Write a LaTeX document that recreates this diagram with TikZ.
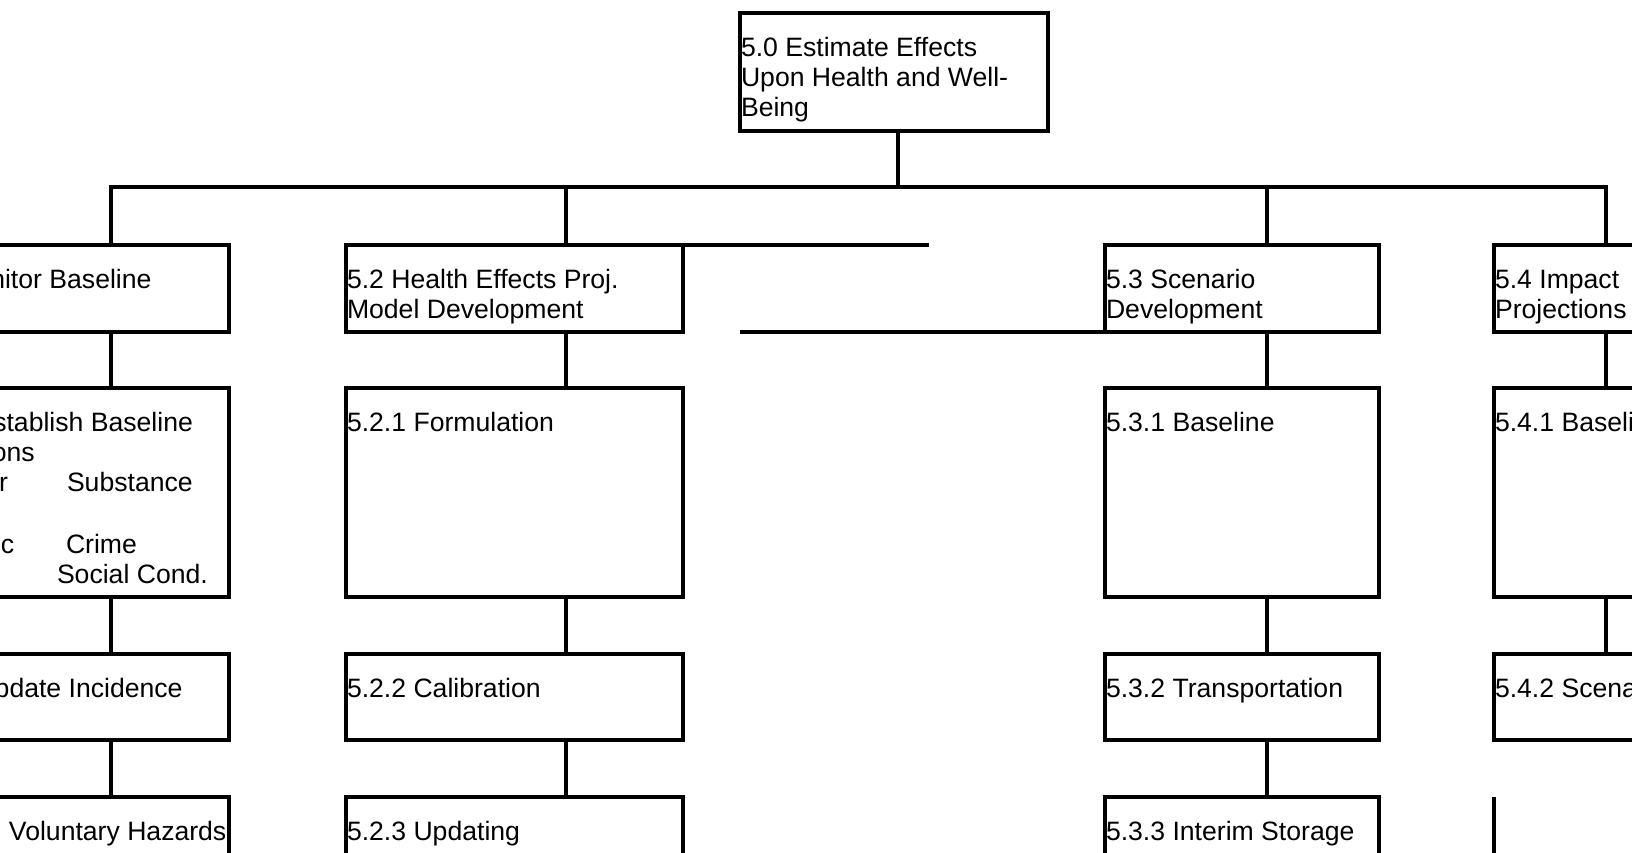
\documentclass[tikz,border=0pt]{standalone}
\usepackage{fontspec}
\setmainfont{Liberation Sans}
\usetikzlibrary{fit}
\tikzset{
  box/.style={draw, line width=1.6pt, inner sep=0pt, outer sep=0pt},
  conn/.style={line width=1.6pt},
  txt/.style={inner sep=0pt, outer sep=0pt, anchor=base west, font=\fontsize{13.3pt}{15pt}\selectfont}
}
\begin{document}
\begin{tikzpicture}[x=0.5pt,y=-0.5pt]
\useasboundingbox (0,0) rectangle (1632,852);
\clip (0,0) rectangle (1632,852);
\fill[white] (0,0) rectangle (1632,852);
% boxes
\node[box, fit={(740,13)(1048,131)}] (b50) {};
\node[box, fit={(-93,245)(229,332)}] (b51) {};
\node[box, fit={(-93,388)(229,597)}] (b511) {};
\node[box, fit={(-93,654)(229,740)}] (b512) {};
\node[box, fit={(-93,797)(229,900)}] (b513) {};
\node[box, fit={(346,245)(683,332)}] (b52) {};
\node[box, fit={(346,388)(683,597)}] (b521) {};
\node[box, fit={(346,654)(683,740)}] (b522) {};
\node[box, fit={(346,797)(683,900)}] (b523) {};
\node[box, fit={(1105,245)(1379,332)}] (b53) {};
\node[box, fit={(1105,388)(1379,597)}] (b531) {};
\node[box, fit={(1105,654)(1379,740)}] (b532) {};
\node[box, fit={(1105,797)(1379,900)}] (b533) {};
\node[box, fit={(1494,245)(1720,332)}] (b54) {};
\node[box, fit={(1494,388)(1720,597)}] (b541) {};
\node[box, fit={(1494,654)(1720,740)}] (b542) {};
% connector coordinates
\coordinate (c50) at (898,187);
\coordinate (d51) at (111,187);
\coordinate (d52) at (566,187);
\coordinate (d53) at (1267,187);
\coordinate (d54) at (1606,187);
\coordinate (s1) at (929,245);
\coordinate (s2) at (740,332);
\coordinate (s3) at (1494,797);
\coordinate (s4) at (1494,880);
% connectors
\draw[conn] (b50.south -| c50) -- (c50);
\draw[conn] (b51.north -| d51) -- (d51) -- (d54) -- (b54.north -| d54);
\draw[conn] (d52) -- (b52.north -| d52);
\draw[conn] (d53) -- (b53.north -| d53);
\foreach \d/\a/\b/\c/\e in {d51/b51/b511/b512/b513, d52/b52/b521/b522/b523, d53/b53/b531/b532/b533}{
  \draw[conn] (\a.south -| \d) -- (\b.north -| \d);
  \draw[conn] (\b.south -| \d) -- (\c.north -| \d);
  \draw[conn] (\c.south -| \d) -- (\e.north -| \d);
}
\draw[conn] (b54.south -| d54) -- (b541.north -| d54);
\draw[conn] (b541.south -| d54) -- (b542.north -| d54);
\draw[conn] (b52.north east) -- (s1);
\draw[conn] (s2) -- (b53.south west);
\draw[conn] (s3) -- (s4);
% texts
\node[txt] (t50a) at (741,56) {5.0 Estimate Effects};
\node[txt] (t50b) at (741,86) {Upon Health and Well-};
\node[txt] (t50c) at (741,116) {Being};
\node[txt] (t51) at (-91,288) {5.1 Monitor Baseline};
\node[txt] (t511a) at (-91,431) {5.1.1 Establish Baseline};
\node[txt] (t511b) at (-91,461.4) {Conditions};
\node[txt] (t511c) at (-1,491.8) {r};
\node[txt] (t511d) at (67,491.8) {Substance};
\node[txt] (t511e) at (1,553) {c};
\node[txt] (t511f) at (66,553) {Crime};
\node[txt] (t511g) at (57,583.4) {Social Cond.};
\node[txt] (t512) at (-91,697) {5.1.2 Update Incidence};
\node[txt] (t513) at (9,840) {Voluntary Hazards};
\node[txt] (t52a) at (347,288) {5.2 Health Effects Proj.};
\node[txt] (t52b) at (347,318) {Model Development};
\node[txt] (t521) at (347,431) {5.2.1 Formulation};
\node[txt] (t522) at (347,697) {5.2.2 Calibration};
\node[txt] (t523) at (347,840) {5.2.3 Updating};
\node[txt] (t53a) at (1106,288) {5.3 Scenario};
\node[txt] (t53b) at (1106,318) {Development};
\node[txt] (t531) at (1106,431) {5.3.1 Baseline};
\node[txt] (t532) at (1106,697) {5.3.2 Transportation};
\node[txt] (t533) at (1106,840) {5.3.3 Interim Storage};
\node[txt] (t54a) at (1495,288) {5.4 Impact};
\node[txt] (t54b) at (1495,318) {Projections};
\node[txt] (t541) at (1495,431) {5.4.1 Baseline};
\node[txt] (t542) at (1495,697) {5.4.2 Scenario};
\end{tikzpicture}
\end{document}
